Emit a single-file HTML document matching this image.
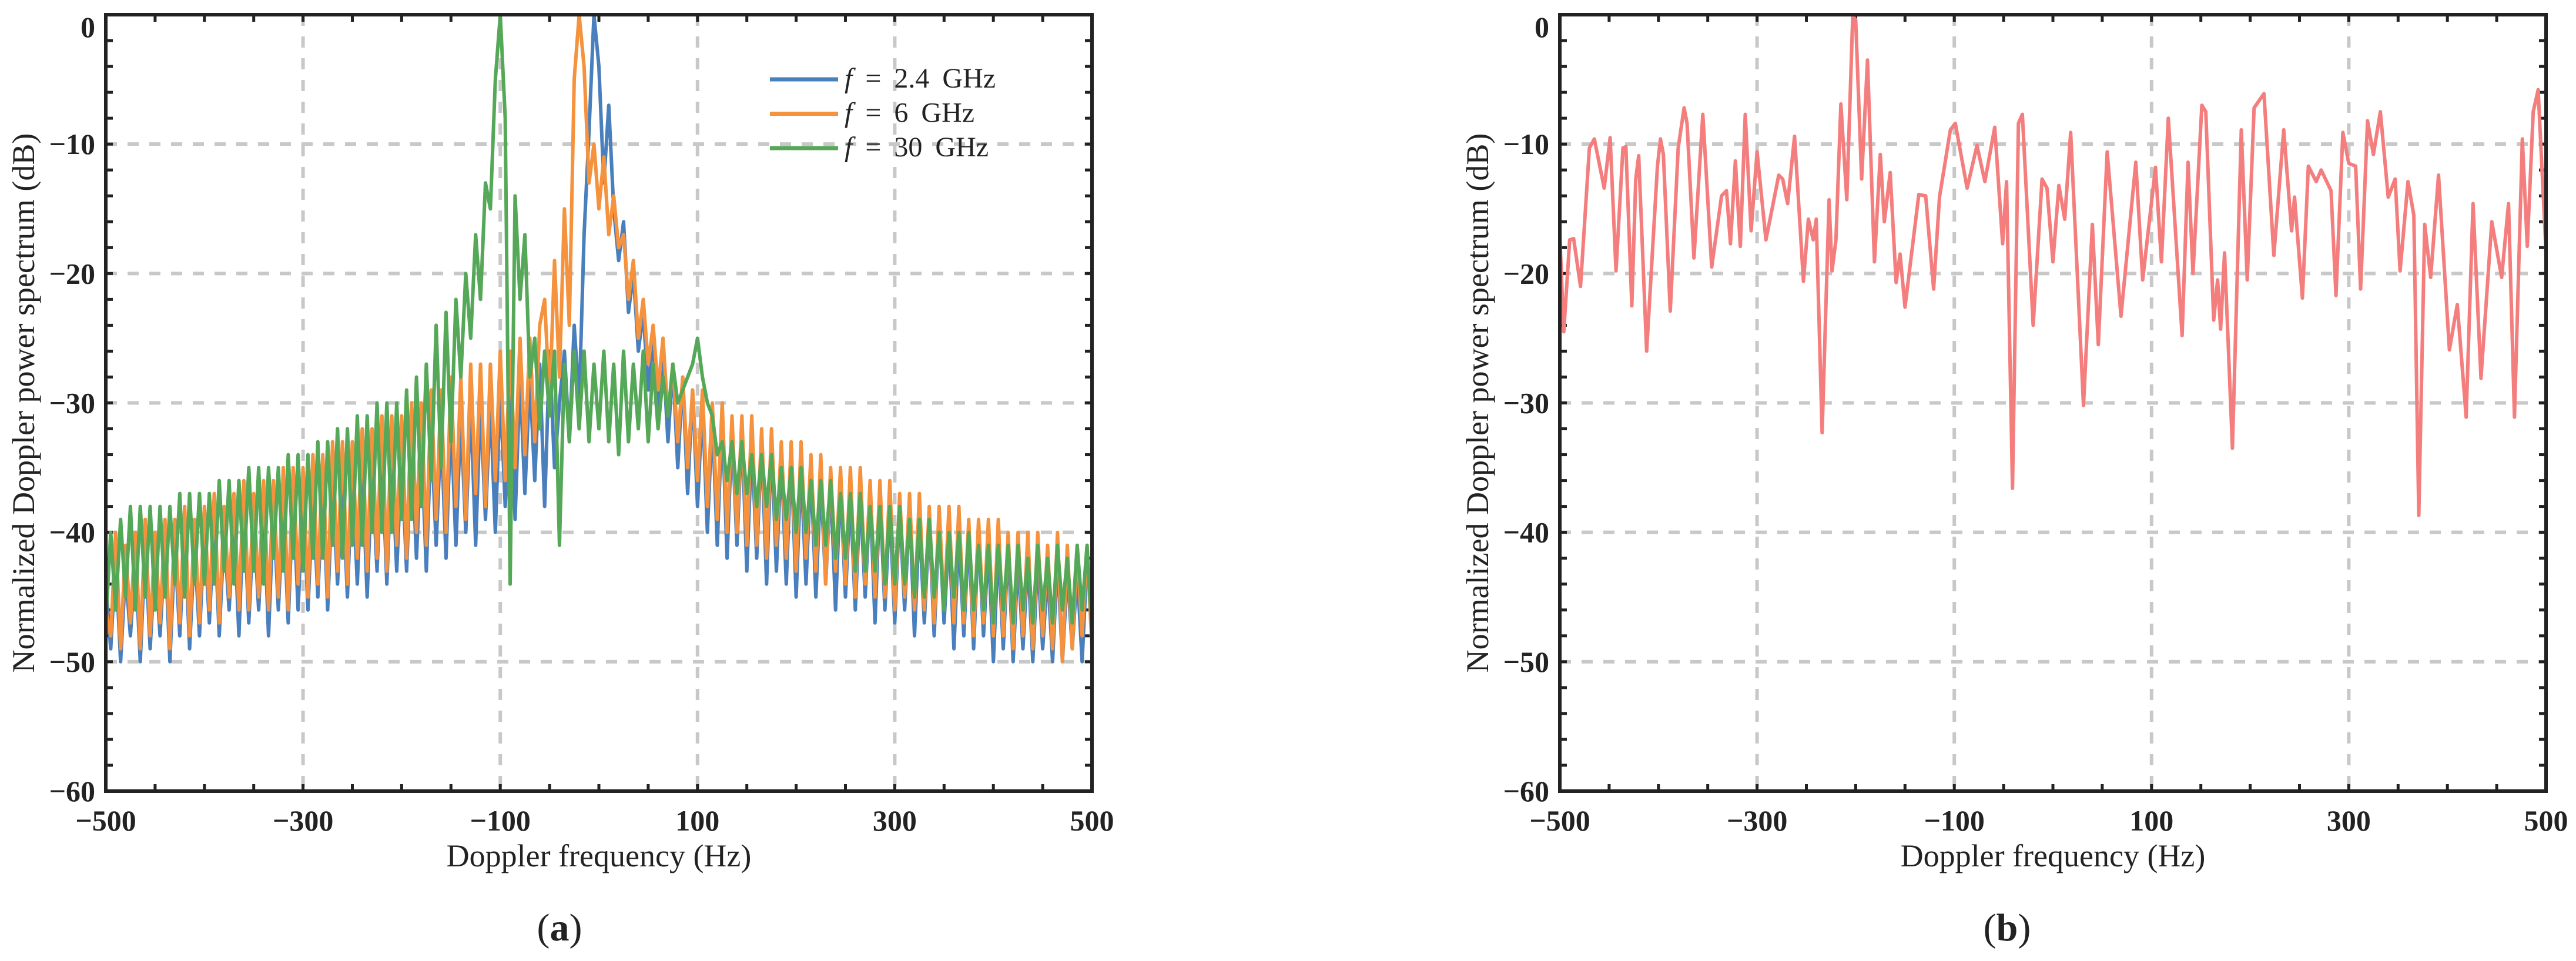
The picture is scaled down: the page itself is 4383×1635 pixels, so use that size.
<!DOCTYPE html>
<html><head><meta charset="utf-8"><style>
html,body{margin:0;padding:0;background:#fff;}
svg{display:block;font-family:"Liberation Serif",serif;}
</style></head><body>
<svg id="fig" xmlns="http://www.w3.org/2000/svg" width="4383" height="1635" viewBox="0 0 4383 1635">
<rect width="4383" height="1635" fill="#fff"/>
</svg>
<script>
// ---- Panel (a) data: Doppler frequency grid (Hz) and normalized power (dB) ----
const freqStartA = -500;
const freqStepA = 5;
const power24 = [-44,-49,-42,-50,-43,-48,-42,-50,-41,-49,-42,-48,-41,-50,-41,-48,-40,-49,-41,-48,
-40,-47,-39,-48,-40,-46,-39,-48,-38,-47,-39,-46,-38,-48,-38,-46,-38,-47,-37,-46,
-37,-46,-37,-45,-36,-46,-36,-44,-36,-45,-35,-44,-35,-45,-35,-43,-34,-44,-34,-43,
-34,-43,-33,-42,-33,-43,-32,-41,-32,-42,-31,-41,-31,-40,-30,-41,-30,-39,-30,-40,
-29,-38,-29,-39,-28,-37,-28,-36,-27,-38,-26,-35,
-30,-26,-33,-24,-30,-17,-9,0,-4,-13,-7,-15,-19,-16,-23,-20,-26,-23,-29,-25,-31,-26,-33,-27,-35,-28,-37,-29,-38,
-30,-40,-31,-41,-31,-42,-32,-41,-32,-43,-33,-42,-33,-44,-33,-43,-34,-44,-34,-45,
-35,-44,-35,-45,-36,-44,-36,-46,-36,-45,-37,-46,-37,-45,-37,-47,-37,-46,-38,-47,
-38,-46,-38,-48,-39,-47,-39,-48,-39,-47,-40,-49,-40,-48,-40,-49,-40,-48,-41,-50,
-41,-49,-41,-50,-42,-49,-42,-50,-42,-49,-43,-50,-42,-50,-43,-49,-43,-50,-42,-45];
const power6 = [-46,-48,-40,-49,-41,-47,-40,-49,-39,-48,-40,-47,-39,-49,-39,-47,-38,-48,-39,-47,
-38,-46,-37,-47,-38,-45,-37,-46,-36,-46,-37,-45,-36,-46,-36,-45,-35,-46,-35,-44,
-35,-45,-34,-44,-34,-45,-33,-43,-33,-44,-33,-42,-32,-43,-32,-42,-31,-43,-31,-41,
-31,-42,-30,-40,-30,-41,-29,-39,-29,-40,-28,-38,-28,-39,-27,-37,-27,-38,-27,-36,
-26,-36,-26,-35,-25,-34,-25,-33,-24,
-22,-30,-19,-28,-15,-24,-5,0,-4,-13,-10,-15,-11,-17,-14,-18,-17,-22,-19,-25,-22,-27,-24,-29,-25,-31,-27,-33,-28,-35,-29,-36,
-29,-38,-30,-39,-30,-40,-31,-40,-31,-41,-31,-41,-32,-42,-32,-41,-33,-42,-33,-43,
-33,-42,-34,-43,-34,-44,-35,-43,-35,-44,-35,-45,-35,-44,-36,-45,-36,-45,-36,-46,
-37,-45,-37,-46,-37,-46,-38,-47,-38,-46,-38,-47,-38,-47,-39,-48,-39,-47,-39,-48,
-39,-48,-40,-49,-40,-48,-40,-49,-40,-48,-41,-49,-40,-50,-41,-49,-41,-48,-41,-49];
const power30 = [-47,-40,-46,-39,-45,-38,-46,-38,-45,-38,-46,-38,-45,-38,-44,-37,-45,-37,-44,-37,
-44,-37,-44,-36,-43,-36,-44,-36,-43,-35,-43,-35,-44,-35,-42,-35,-43,-34,-42,-34,
-43,-34,-42,-33,-42,-33,-41,-32,-42,-32,-41,-31,-41,-31,-40,-30,-40,-30,-40,-30,
-39,-29,-39,-28,-38,-27,-36,-24,-35,-23,-33,-22,
-28,-20,-25,-17,-22,-13,-15,-5,0,
-8,-44,-14,-22,-17,-28,-25,-32,-26,-31,-26,-41,-27,
-33,-26,-32,-26,-33,-27,-32,-26,-33,-27,-34,-26,-33,-27,-32,-26,-33,-27,-32,-28,-31,-27,-30,-29,-28,-27,-25,
-28,-30,-31,-34,-33,-36,-33,-37,-33,-37,-34,-38,-34,-38,-34,-39,-35,-39,-35,-40,
-35,-40,-36,-41,-36,-41,-36,-42,-37,-42,-37,-43,-37,-43,-38,-43,-38,-44,-38,-44,
-38,-44,-39,-45,-39,-45,-39,-45,-40,-46,-40,-45,-40,-46,-40,-46,-41,-46,-41,-47,
-41,-46,-41,-47,-41,-46,-42,-47,-41,-46,-42,-47,-41,-46,-42,-47,-41,-46,-41,-48];
const legendLabels = ["2.4 GHz","6 GHz","30 GHz"];

// ---- Panel (b) data ----
const freqB = [-500,-496,-490,-486,-479,-470,-465,-455,-449,-443,-436,-433,-427,-423,-420,-412,-401,-398,-395,-388,-380,-374,-371,-364,-355,-346,-336,-331,-327,-322,-317,-312,-306,-300,-291,-278,-274,-269,-262,-253,-248,-243,-240,-234,-227,-224,-220,-215,-209,-203,-200,-194,-188,-181,-175,-171,-165,-159,-155,-150,-136,-129,-121,-115,-104,-99,-87,-77,-69,-59,-51,-47,-41,-35,-31,-20,-11,-6,0,6,12,18,31,40,46,55,69,84,91,104,110,117,131,137,142,151,155,163,167,170,174,182,191,197,204,214,224,234,242,245,253,259,267,272,282,287,294,300,307,312,319,325,332,340,347,352,360,366,371,377,383,391,402,410,419,426,434,445,455,462,468,476,481,487,492,500];
const powerB = [-17.1,-24.5,-17.4,-17.3,-21,-10.3,-9.6,-13.4,-9.5,-19.8,-10.3,-10.2,-22.5,-12.7,-10.9,-26,-11.7,-9.6,-10.8,-22.9,-10.3,-7.2,-8.4,-18.8,-7.7,-19.5,-14,-13.6,-17.7,-11.3,-17.9,-7.7,-16.7,-10.6,-17.4,-12.4,-12.7,-14.6,-9.4,-20.6,-15.8,-17.4,-15.8,-32.3,-14.3,-19.8,-17.4,-6.9,-14.3,-0.1,-0.4,-12.7,-3.5,-19.1,-10.8,-16,-12.2,-20.7,-18.5,-22.6,-13.9,-14,-21.2,-14.1,-8.9,-8.4,-13.4,-10.1,-12.9,-8.7,-17.7,-12.9,-36.6,-8.4,-7.7,-24,-12.7,-13.4,-19.1,-13.2,-15.8,-9.1,-30.2,-16.2,-25.5,-10.6,-23.3,-11.4,-20.5,-11.8,-19.1,-8,-24.8,-11.4,-20,-7,-7.5,-23.6,-20.5,-24.3,-18.4,-33.5,-8.9,-20.5,-7.2,-6.1,-18.6,-8.9,-16.7,-14.1,-21.9,-11.7,-12.9,-12,-13.6,-21.7,-9.1,-11.5,-11.7,-21.2,-8.2,-10.8,-7.5,-14.1,-12.7,-19.8,-12.9,-15.5,-38.7,-16.2,-20.3,-12.4,-25.9,-22.4,-31.1,-14.6,-28.1,-16,-20.3,-14.6,-31.1,-9.6,-17.9,-7.5,-5.8,-18.4];

// ---- axis tick definitions ----
const xTickLabels = [-500,-300,-100,100,300,500];
const yTickLabels = [0,-10,-20,-30,-40,-50,-60];

const NS = "http://www.w3.org/2000/svg";
const svg = document.getElementById("fig");
function mk(tag, attrs, parent){
  const e = document.createElementNS(NS, tag);
  for (const k in attrs) e.setAttribute(k, attrs[k]);
  (parent||svg).appendChild(e);
  return e;
}
function fmt(v){ return v<0 ? "\u2212"+Math.abs(v) : String(v); }

function panel(x0, name, sub, subX){
  const x1 = x0 + 1678, y0 = 25, y1 = 1346;
  const g = mk("g", {});
  
  
  const sx = v => x0 + (v + 500) / 1000 * (x1 - x0);
  const sy = v => y0 + (-v) / 60 * (y1 - y0);
  const grid = mk("g", {stroke:"#c8c8c8","stroke-width":6,"stroke-dasharray":"19 18"}, g);
  
  
  xTickLabels.slice(1,-1).forEach(v => mk("line",{x1:sx(v),x2:sx(v),y1:y0,y2:y1},grid));
  yTickLabels.slice(1,-1).forEach(v => mk("line",{x1:x0,x2:x1,y1:sy(v),y2:sy(v)},grid));
  const tk = mk("g",{stroke:"#222","stroke-width":5},g);
  
  
  for (let v=-450; v<500; v+=50){
    mk("line",{x1:sx(v),x2:sx(v),y1:y1,y2:y1-12},tk);
    mk("line",{x1:sx(v),x2:sx(v),y1:y0,y2:y0+12},tk);
  }
  for (let v=-2; v>-60; v-=2){
    mk("line",{x1:x0,x2:x0+12,y1:sy(v),y2:sy(v)},tk);
    mk("line",{x1:x1,x2:x1-12,y1:sy(v),y2:sy(v)},tk);
  }
  xTickLabels.forEach(v => {
    const t = mk("text",{x:sx(v),y:1413,"text-anchor":"middle","font-size":50,"font-weight":"bold",fill:"#222"},g);
    
    
    t.textContent = fmt(v);
  });
  yTickLabels.forEach(v => {
    const cy = Math.max(sy(v), 46);
    const t = mk("text",{x:x0-18,y:cy+17,"text-anchor":"end","font-size":50,"font-weight":"bold",fill:"#222"},g);
    
    
    t.textContent = fmt(v);
  });
  const xt = mk("text",{x:(x0+x1)/2,y:1474,"text-anchor":"middle","font-size":54,fill:"#222"},g);
  
  
  xt.textContent = "Doppler frequency (Hz)";
  const yt = mk("text",{x:0,y:0,"text-anchor":"middle","font-size":54,fill:"#222",transform:`translate(${x0-122},${(y0+y1)/2}) rotate(-90)`},g);
  
  
  yt.textContent = "Normalized Doppler power spectrum (dB)";
  const st = mk("text",{x:subX,y:1600,"text-anchor":"middle","font-size":66,fill:"#222"},g);
  
  
  st.innerHTML = '(<tspan font-weight="bold">'+sub+'</tspan>)';
  return {g, sx, sy, x0, x1, y0, y1};
}
function frame(p){
  const r = mk("rect",{x:p.x0,y:p.y0,width:p.x1-p.x0,height:p.y1-p.y0,fill:"none",stroke:"#222","stroke-width":6},p.g);
  
  
}
function series(p, xs, ys, color, name){
  const d = ys.map((v,i) => (i?"L":"M") + p.sx(xs[i]).toFixed(1) + "," + p.sy(v).toFixed(1)).join("");
  const path = mk("path",{d, fill:"none", stroke:color, "stroke-width":6, "stroke-linejoin":"round"}, p.g);
  
  
}

const A = panel(180, "panel-a", "a", 952);
const gridX = power24.map((_, i) => freqStartA + i * freqStepA);
series(A, gridX, power24, "#4a7fbd", "series-2-4-ghz");
series(A, gridX, power6, "#f5923e", "series-6-ghz");
series(A, gridX, power30, "#55a858", "series-30-ghz");
frame(A);
const legColors = ["#4a7fbd","#f5923e","#55a858"];
const leg = mk("g",{});


legendLabels.forEach((lab, i) => {
  const y = 135 + i * 58.5;
  const ln = mk("line",{x1:1310,x2:1426,y1:y,y2:y,stroke:legColors[i],"stroke-width":7},leg);
  
  
  const t = mk("text",{x:1437,y:y+14,"font-size":48,fill:"#222","word-spacing":"10"},leg);
  
  
  t.innerHTML = '<tspan font-style="italic">f</tspan> = ' + lab;
});

const B = panel(2654, "panel-b", "b", 3415);
series(B, freqB, powerB, "#f47e7e", "series-spectrum-b");
frame(B);
</script>
</body></html>
